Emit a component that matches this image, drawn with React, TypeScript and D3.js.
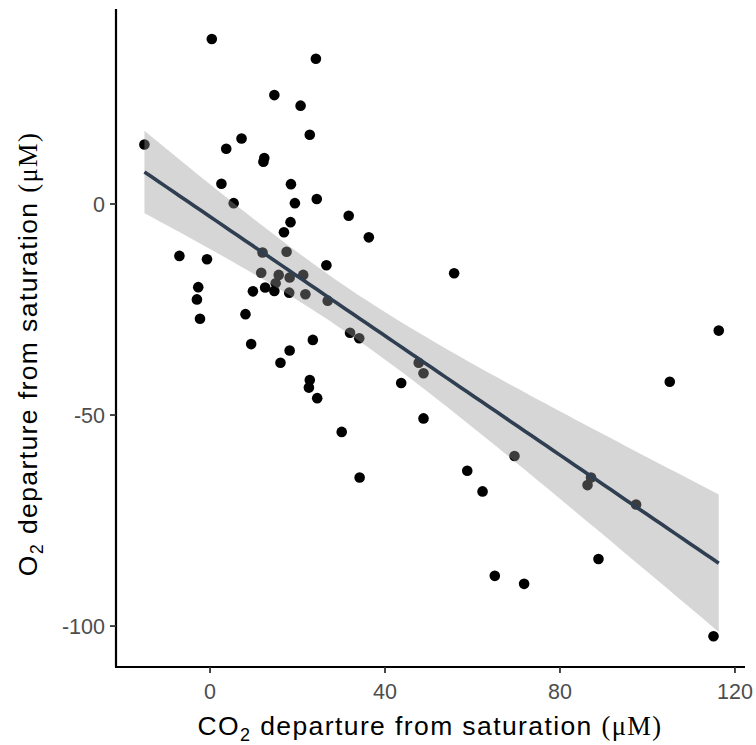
import React from "react";
import * as d3 from "d3";

const co2: number[] = [
  0.4, 24.2, 14.7, 20.7, 22.8, -15.0, 7.2, 3.7, 12.4, 12.2,
  2.6, 18.5, 5.4, 19.4, 24.4, 31.7, 18.4, 16.9, 36.3, -7.0,
  -0.7, 12.0, 17.5, 26.6, 11.7, 15.7, 18.2, 21.3, 15.0, -2.7,
  12.6, 14.7, 9.8, 18.1, 21.8, -3.0, 26.9, 8.1, -2.3, 32.0,
  34.1, 23.5, 9.4, 18.2, 16.1, 22.8, 22.6, 24.5, 47.7, 48.8,
  43.7, 48.8, 30.1, 34.2, 55.8, 116.3, 105.1, 69.6, 58.8, 62.3,
  87.1, 86.3, 97.4, 88.8, 65.1, 71.8, 115.1,
];
const o2: number[] = [
  39.1, 34.4, 25.8, 23.3, 16.4, 14.1, 15.5, 13.1, 10.9, 10.0,
  4.8, 4.7, 0.2, 0.2, 1.2, -2.8, -4.3, -6.7, -7.9, -12.3,
  -13.1, -11.5, -11.3, -14.5, -16.3, -16.8, -17.4, -16.8, -18.8, -19.7,
  -19.8, -20.6, -20.7, -21.0, -21.4, -22.6, -22.9, -26.1, -27.2, -30.5,
  -31.8, -32.2, -33.2, -34.7, -37.6, -41.7, -43.5, -46.0, -37.6, -40.1,
  -42.4, -50.8, -54.0, -64.8, -16.4, -30.0, -42.1, -59.7, -63.2, -68.1,
  -64.8, -66.6, -71.2, -84.1, -88.1, -90.0, -102.4,
];
const xTicks: number[] = [0, 40, 80, 120];
const yTicks: number[] = [0, -50, -100];

const W = 756;
const H = 745;
const left = 116, right = 745, top = 9, bottom = 667;

export default function App() {
  const x = d3.scaleLinear().domain([-21.5, 122.3]).range([left, right]);
  const y = d3.scaleLinear().domain([-109.7, 46.2]).range([bottom, top]);

  const n = co2.length;
  const mx = d3.mean(co2)!;
  const my = d3.mean(o2)!;
  let sxx = 0, sxy = 0;
  for (let i = 0; i < n; i++) {
    sxx += (co2[i] - mx) ** 2;
    sxy += (co2[i] - mx) * (o2[i] - my);
  }
  const b = sxy / sxx;
  const a = my - b * mx;
  let sse = 0;
  for (let i = 0; i < n; i++) sse += (o2[i] - a - b * co2[i]) ** 2;
  const s = Math.sqrt(sse / (n - 2));
  const t = 1.994;
  const [xmin, xmax] = d3.extent(co2) as [number, number];
  const grid = d3.range(0, 81).map((i) => xmin + ((xmax - xmin) * i) / 80);
  const fit = grid.map((gx) => {
    const yh = a + b * gx;
    const se = s * Math.sqrt(1 / n + (gx - mx) ** 2 / sxx);
    return { gx, yh, lo: yh - t * se, hi: yh + t * se };
  });
  const area = d3
    .area<any>()
    .x((d) => x(d.gx))
    .y0((d) => y(d.lo))
    .y1((d) => y(d.hi));
  const line = d3
    .line<any>()
    .x((d) => x(d.gx))
    .y((d) => y(d.yh));

  const sans = "'Liberation Sans', Arial, sans-serif";
  const serif = "'Liberation Serif', 'Times New Roman', serif";

  return (
    <svg
      width={W}
      height={H}
      style={{ position: "absolute", left: 0, top: 0, background: "#fff" }}
      fontFamily={sans}
    >
      <rect x={0} y={0} width={W} height={H} fill="#fff" />
      {co2.map((cx, i) => (
        <circle key={i} cx={x(cx)} cy={y(o2[i])} r={5.3} fill="#000" />
      ))}
      <path d={area(fit)!} fill="#999999" fillOpacity={0.4} />
      <path d={line(fit)!} fill="none" stroke="#2f3e50" strokeWidth={3.6} />

      {/* axes */}
      <line x1={left} y1={top} x2={left} y2={bottom} stroke="#000" strokeWidth={2.2} />
      <line x1={left - 1} y1={bottom} x2={right} y2={bottom} stroke="#000" strokeWidth={2.2} />
      {xTicks.map((v) => (
        <g key={v}>
          <line x1={x(v)} x2={x(v)} y1={bottom} y2={bottom + 6} stroke="#333" strokeWidth={1.8} />
          <text x={x(v)} y={699} textAnchor="middle" fontSize={21.5} fill="#4d4d4d">
            {v}
          </text>
        </g>
      ))}
      {yTicks.map((v) => (
        <g key={v}>
          <line x1={left - 6} x2={left} y1={y(v)} y2={y(v)} stroke="#333" strokeWidth={1.8} />
          <text x={left - 11} y={y(v) + 7.7} textAnchor="end" fontSize={21.5} fill="#4d4d4d">
            {v}
          </text>
        </g>
      ))}

      <text x={430} y={735} textAnchor="middle" fontSize={26.5} fill="#000" letterSpacing={1.4}>
        CO
        <tspan fontSize={18} dy={6}>2</tspan>
        <tspan dy={-6}> departure from saturation </tspan>
        <tspan fontFamily={serif}>(μM)</tspan>
      </text>
      <text
        transform={`translate(37, 354) rotate(-90)`}
        textAnchor="middle"
        fontSize={26.5}
        fill="#000"
        letterSpacing={1.4}
      >
        O
        <tspan fontSize={18} dy={6}>2</tspan>
        <tspan dy={-6}> departure from saturation </tspan>
        <tspan fontFamily={serif}>(μM)</tspan>
      </text>
    </svg>
  );
}
